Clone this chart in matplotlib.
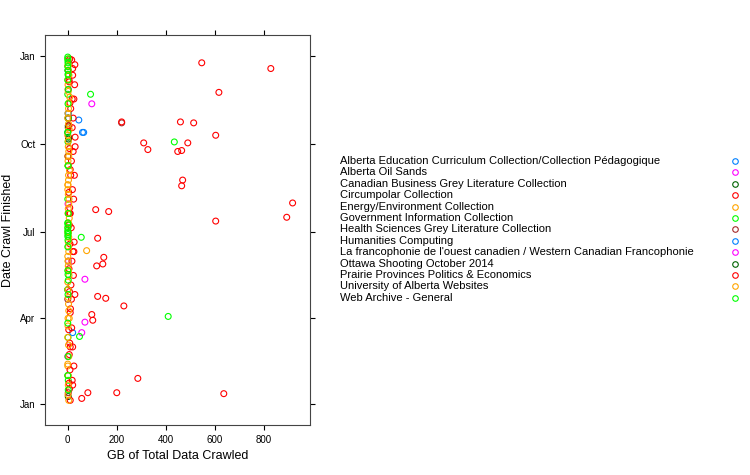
import datetime as dt
import matplotlib
matplotlib.use('Agg')
import matplotlib.pyplot as plt
import matplotlib.dates as mdates

# each collection: (GB crawled, day of 2014 the crawl finished)
names = [
    'Alberta Education Curriculum Collection/Collection Pédagogique',
    'Alberta Oil Sands',
    'Canadian Business Grey Literature Collection',
    'Circumpolar Collection',
    'Energy/Environment Collection',
    'Government Information Collection',
    'Health Sciences Grey Literature Collection',
    'Humanities Computing',
    "La francophonie de l'ouest canadien / Western Canadian Francophonie",
    'Ottawa Shooting October 2014',
    'Prairie Provinces Politics & Economics',
    'University of Alberta Websites',
    'Web Archive - General',
]
colors = ['#0080ff', '#ff00ff', '#006400', '#ff0000', '#ffa500', '#00ff00', '#a52a2a',
          '#0080ff', '#ff00ff', '#006400', '#ff0000', '#ffa500', '#00ff00']

edu_gb = [45, 60, 2, 1]
edu_day = [298, 285, 290, 305]
oil_gb = [98, 70, 70, 57, 3]
oil_day = [315, 131, 86, 75, 300]
cbg_gb = [1, 2, 0, 1, 3, 2]
cbg_day = [350, 250, 120, 30, 280, 8]
circ_gb = [5, 18, 22, 30, 12, 8, 25, 15, 10, 20]
circ_day = [340, 320, 300, 270, 240, 200, 160, 110, 60, 20]
energy_gb = [0, 1, 2, 0, 1, 3, 2, 1, 0]
energy_day = [355, 330, 290, 260, 230, 180, 140, 90, 40]
gov_gb = [1, 2, 0, 3, 1, 2, 0, 1, 2, 0, 1, 2]
gov_day = [360, 345, 325, 300, 275, 250, 215, 190, 150, 120, 70, 25]
health_gb = [220, 2, 1, 3, 0, 2]
health_day = [295, 350, 260, 200, 110, 12]
hum_gb = [65, 20, 3]
hum_day = [285, 75, 305]
franco_gb = [2, 1, 3, 0]
franco_day = [330, 210, 150, 50]
ott_gb = [1, 2, 0, 3]
ott_day = [300, 292, 285, 278]
prai_gb = [16, 29, 20, 547, 829, 617, 220, 460, 514, 604, 310, 327, 490, 449, 465,
           469, 465, 918, 894, 114, 167, 604, 122, 147, 118, 143, 122, 155, 229, 98,
           102, 286, 200, 637, 57, 82, 20, 28, 25, 12, 18, 30, 22, 15, 27, 19, 24,
           10, 14, 26, 21, 17, 23, 13, 29, 11, 16, 20, 25, 18,
           8, 6, 9, 5, 7, 10, 4, 8, 6, 9, 5, 7, 10, 4, 8, 6, 9, 5, 7, 10]
prai_day = [361, 356, 352, 358, 352, 327, 296, 296, 295, 282, 274, 267, 274, 265, 266,
            235, 229, 211, 196, 204, 202, 192, 174, 154, 145, 147, 113, 111, 103, 94,
            88, 27, 12, 11, 6, 12, 345, 335, 320, 310, 290, 280, 265, 255, 240, 225,
            215, 200, 185, 170, 160, 150, 135, 125, 115, 100, 80, 60, 40, 25,
            362, 338, 316, 292, 268, 246, 222, 206, 188, 168, 142, 118, 96, 78, 64,
            52, 36, 22, 16, 4]
uofa_gb = [77, 2, 5, 1, 8, 3, 0, 6, 2, 4, 1, 7, 3, 0, 5, 2, 6, 1, 4, 3, 0, 2, 5, 1,
           3, 6, 0, 4, 2, 1,
           1, 3, 0, 2, 4, 1, 3, 0, 2, 4, 1, 3, 0, 2, 4, 1, 3, 0, 2, 4, 1, 3, 0, 2,
           4, 1, 3, 0, 2, 4]
uofa_day = [161, 355, 345, 335, 322, 310, 300, 288, 276, 265, 255, 245, 235, 225,
            215, 205, 195, 185, 175, 165, 155, 145, 135, 120, 105, 90, 70, 50, 30, 10,
            362, 350, 340, 328, 316, 305, 294, 282, 270, 260, 250, 240, 230, 220,
            210, 200, 190, 180, 170, 160, 150, 140, 128, 112, 98, 82, 62, 42, 20, 4]
web_gb = [93, 435, 410, 55, 48, 0, 1, 0, 2, 1, 0, 1, 2, 0, 1, 0, 2, 1, 0, 1, 0, 2,
          0, 1, 0, 1, 0, 1, 0, 1, 0, 1, 0, 1]
web_day = [325, 275, 92, 175, 71, 362, 350, 340, 330, 315, 285, 250, 200, 185, 180,
           165, 130, 115, 85, 50, 30, 15, 364, 358, 354, 346, 190, 188, 182, 178,
           176, 172, 140, 136]

series = [(edu_gb, edu_day), (oil_gb, oil_day), (cbg_gb, cbg_day), (circ_gb, circ_day),
          (energy_gb, energy_day), (gov_gb, gov_day), (health_gb, health_day),
          (hum_gb, hum_day), (franco_gb, franco_day), (ott_gb, ott_day),
          (prai_gb, prai_day), (uofa_gb, uofa_day), (web_gb, web_day)]

start = dt.date(2014, 1, 1)
plt.rcParams['font.family'] = ['Liberation Sans', 'DejaVu Sans']

fig = plt.figure(figsize=(7.5, 4.75), dpi=100)
ax = fig.add_axes([0.06, 0.105, 0.353, 0.821])

for (gb, days), c in zip(series, colors):
    dates = [start + dt.timedelta(days=d) for d in days]
    ax.scatter(gb, dates, s=18, facecolors='none', edgecolors=c, linewidths=0.8)

ax.set_xlim(-93, 988)
ax.set_ylim(start - dt.timedelta(days=22), dt.date(2015, 1, 23))
ax.set_xticks([0, 200, 400, 600, 800])
ax.yaxis.set_major_locator(mdates.MonthLocator(bymonth=[1, 4, 7, 10]))
ax.yaxis.set_major_formatter(mdates.DateFormatter('%b'))
ax.tick_params(labelsize=7, direction='out', top=True, right=True, labeltop=False, labelright=False)
for s in ax.spines.values():
    s.set_color('#444444')
ax.set_xlabel('GB of Total Data Crawled', fontsize=9)
ax.set_ylabel('Date Crawl Finished', fontsize=9)

for i, (n, c) in enumerate(zip(names, colors)):
    y = 1 - (161 + i * 11.4) / 475
    fig.text(340 / 750, y, n, fontsize=8, va='center', ha='left')
    fig.lines.append(plt.Line2D([735 / 750], [y], marker='o', markersize=4, mfc='none',
                                mec=c, mew=0.8, transform=fig.transFigure))

fig.savefig('out.png')
